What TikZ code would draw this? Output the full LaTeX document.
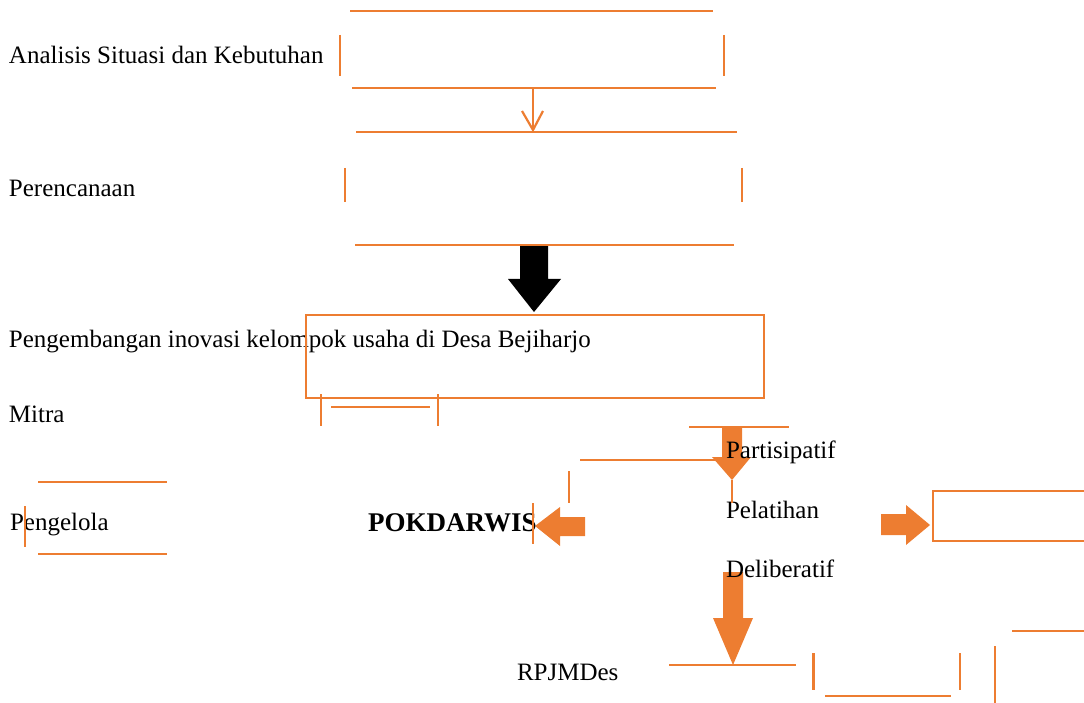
\documentclass[tikz,border=0pt]{standalone}
\usepackage{fontspec}
\setmainfont{Liberation Serif}
\definecolor{orng}{HTML}{ED7D31}
\tikzset{
  lbl/.style={anchor=base west, inner sep=0pt, outer sep=0pt, font=\fontsize{25}{30}\selectfont},
  boldlbl/.style={lbl, font=\fontsize{27}{32}\selectfont\bfseries},
  oline/.style={draw=orng, line width=2.2pt},
  obox/.style={draw=orng, line width=2.4pt},
  ofill/.style={fill=orng, draw=none},
  bfill/.style={fill=black, draw=none}
}
\begin{document}
\begin{tikzpicture}[x=1pt,y=-1pt]
\useasboundingbox (0,0) rectangle (1084,703);
% filled arrows (below the texts)
\fill[bfill] (520,245) -- (548,245) -- (548,279) -- (561,279) -- (534,312) -- (508,279) -- (520,279) -- cycle;
\fill[ofill] (722,428) -- (742,428) -- (742,457) -- (751,457) -- (732,480) -- (712,457) -- (722,457) -- cycle;
\fill[ofill] (585,517) -- (585,536) -- (560,536) -- (560,546) -- (535,526) -- (560,507) -- (560,517) -- cycle;
\fill[ofill] (881,514) -- (906,514) -- (906,505) -- (930,525) -- (906,545) -- (906,535) -- (881,535) -- cycle;
\fill[ofill] (723,572) -- (743,572) -- (743,618) -- (753,618) -- (733,665) -- (713,618) -- (723,618) -- cycle;
% texts
\node[lbl] (analisis) at (9,64) {Analisis Situasi dan Kebutuhan};
\node[lbl] (perenc) at (9,197) {Perencanaan};
\node[lbl] (pengemb) at (9,347) {Pengembangan inovasi kelompok usaha di Desa Bejiharjo};
\node[lbl] (mitra) at (9,422) {Mitra};
\node[lbl] (pengelola) at (10,530) {Pengelola};
\node[boldlbl] (pokdarwis) at (368,531) {POKDARWIS};
\node[lbl] (partis) at (726,458) {Partisipatif};
\node[lbl] (pelatihan) at (726,518) {Pelatihan};
\node[lbl] (delib) at (726,577) {Deliberatif};
\node[lbl] (rpjm) at (517,680) {RPJMDes};
% box 1 pieces
\draw[oline] (350,11) -- (713,11);
\draw[oline] (340,35) -- (340,76);
\draw[oline] (724,35) -- (724,76);
\draw[oline] (352,88) -- (716,88);
% thin arrow
\coordinate (a1s) at (533,88);
\coordinate (a1e) at (533,130);
\draw[oline] (a1s) -- (a1e);
\draw[oline, line join=miter] (522,111) -- (a1e) -- (543,111);
% box 2 pieces
\draw[oline] (356,132) -- (737,132);
\draw[oline] (345,168) -- (345,202);
\draw[oline] (742,168) -- (742,202);
\draw[oline] (355,245) -- (734,245);
% big box
\draw[obox] (306,315) rectangle (764,398);
% mitra bracket
\draw[oline] (321,394) -- (321,426);
\draw[oline] (438,394) -- (438,426);
\draw[oline] (331,407) -- (430,407);
% pengelola bracket
\draw[oline] (38,482) -- (167,482);
\draw[oline] (38,554) -- (167,554);
\draw[oline] (25,506) -- (25,547);
% partisipatif area
\draw[oline] (689,427) -- (789,427);
\draw[oline] (580,460) -- (722,460);
\draw[oline] (569,471) -- (569,503);
\draw[oline] (732,480) -- (732,503);
% POKDARWIS side line
\draw[oline] (533,503) -- (533,544);
% right box
\draw[obox] (1086,491) -- (933,491) -- (933,541) -- (1086,541);
% line under deliberatif arrow
\draw[oline] (669,665) -- (796,665);
% bottom brackets
\draw[oline] (813.5,653) -- (813.5,690);
\draw[oline] (825,696) -- (951,696);
\draw[oline] (960,653) -- (960,690);
\draw[oline] (995,646) -- (995,705);
\draw[oline] (1012,631) -- (1086,631);
\end{tikzpicture}
\end{document}
